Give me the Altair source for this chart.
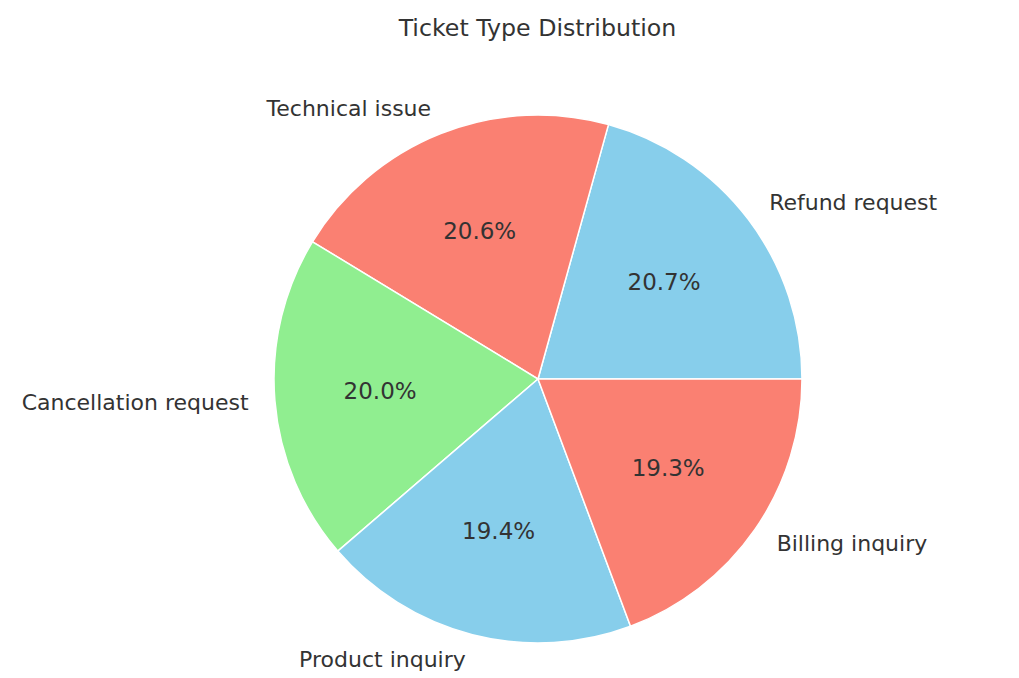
import math
import altair as alt
import pandas as pd

categories = ["Refund request", "Technical issue", "Cancellation request", "Product inquiry", "Billing inquiry"]
percents = [20.7, 20.6, 20.0, 19.4, 19.3]
colors = ["#87CEEB", "#FA8072", "#90EE90", "#87CEEB", "#FA8072"]

df = pd.DataFrame({
    "cat": categories,
    "pct": percents,
    "ord": list(range(len(categories)))[::-1],
})

CX, CY, R = 530, 311, 264
sc = alt.Scale(domain=[0, 100], range=[math.pi / 2, math.pi / 2 + 2 * math.pi])

base = alt.Chart(df).transform_window(
    cum="sum(pct)", sort=[alt.SortField("ord")], frame=[None, 0]
).transform_calculate(
    start="datum.cum - datum.pct",
    mid="datum.cum - datum.pct / 2",
    label="format(datum.pct, '.1f') + '%'",
    side="cos(2 * PI * (datum.cum - datum.pct / 2) / 100)",
)

arc = base.mark_arc(outerRadius=R, stroke="white", strokeWidth=1.5).encode(
    theta=alt.Theta("start:Q", scale=sc, stack=False),
    theta2="cum:Q",
    color=alt.Color("cat:N", scale=alt.Scale(domain=categories, range=colors), legend=None),
    x=alt.value(CX),
    y=alt.value(CY),
)

pct = base.mark_text(radius=R * 0.6, fontSize=23, font="DejaVu Sans", color="#333333",
                     baseline="middle", align="center").encode(
    theta=alt.Theta("mid:Q", scale=sc, stack=False),
    text="label:N",
    x=alt.value(CX),
    y=alt.value(CY),
)

lab_left = base.transform_filter("datum.side > 0").mark_text(
    radius=R * 1.1, fontSize=22, font="DejaVu Sans", color="#333333",
    baseline="middle", align="left").encode(
    theta=alt.Theta("mid:Q", scale=sc, stack=False),
    text="cat:N",
    x=alt.value(CX),
    y=alt.value(CY),
)

lab_right = base.transform_filter("datum.side <= 0").mark_text(
    radius=R * 1.1, fontSize=22, font="DejaVu Sans", color="#333333",
    baseline="middle", align="right").encode(
    theta=alt.Theta("mid:Q", scale=sc, stack=False),
    text="cat:N",
    x=alt.value(CX),
    y=alt.value(CY),
)

chart = alt.layer(arc, pct, lab_left, lab_right).properties(
    width=1003,
    height=610,
    autosize="none",
    padding={"left": 0, "top": 60, "right": 0, "bottom": 0},
    title=alt.Title("Ticket Type Distribution", fontSize=23.7, font="DejaVu Sans",
                    fontWeight="normal", color="#333333", anchor="middle",
                    baseline="alphabetic", offset=8, dx=28),
).configure_view(stroke=None)

chart.save("out.html", embed_options={"renderer": "svg", "actions": False})
